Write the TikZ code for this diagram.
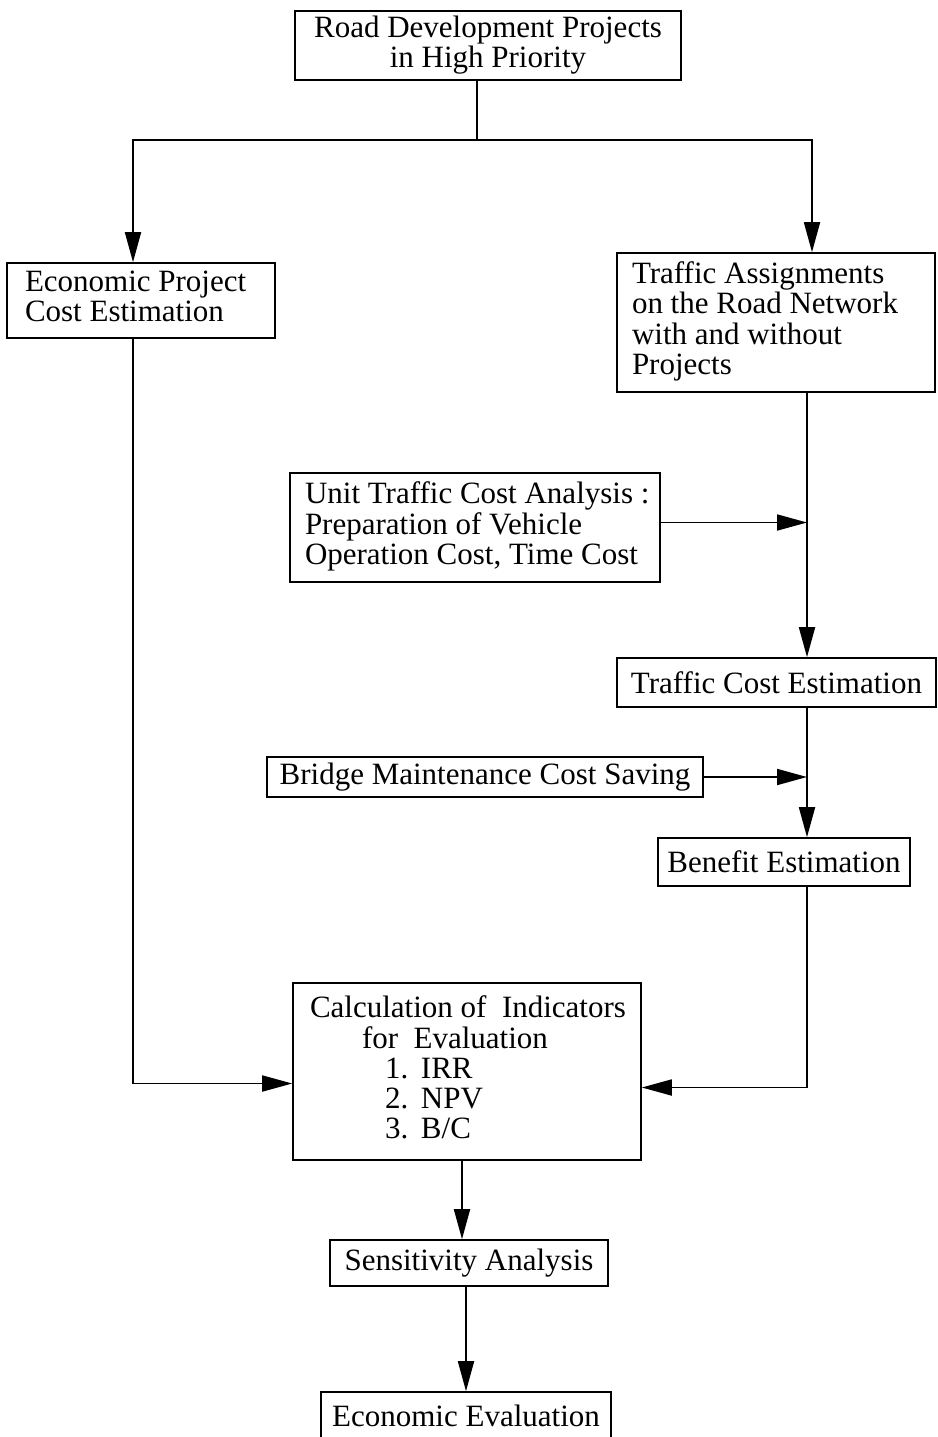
\documentclass[tikz,border=0pt]{standalone}
\usepackage{fontspec}
\setmainfont{Liberation Serif}
\usetikzlibrary{arrows.meta}
% left-aligned multi-line text inside a box of fixed width, with an indent
\newcommand{\leftcol}[3]{\makebox[#1][l]{\hspace*{#2}\begin{tabular}{@{}l@{}}#3\end{tabular}}}
% numbered indicator line
\newcommand{\indic}[2]{\hspace*{92pt}\makebox[36pt][l]{#1}#2}
\begin{document}
\begin{tikzpicture}[x=1pt,y=-1pt,
  blk/.style={draw, line width=1.6pt, inner sep=0pt, align=center,
              font=\fontsize{31}{30}\selectfont},
  conn/.style={line width=1.8pt},
  arr/.style={conn, -{Triangle[length=30pt,width=16pt]}},
]
\fill[white] (0,0) rectangle (937,1437);
\useasboundingbox (0,0) rectangle (937,1437);

% boxes
\node[blk, minimum width=386pt, minimum height=69pt] (top) at (488,45.5)
  {Road Development Projects\\in High Priority};
\node[blk, minimum width=268pt, minimum height=75pt] (econ) at (141,300.5)
  {\leftcol{268pt}{18pt}{Economic Project\\Cost Estimation}};
\node[blk, minimum width=318pt, minimum height=139pt] (traf) at (776,322.5)
  {\leftcol{318pt}{15pt}{Traffic Assignments\\on the Road Network\\with and without\\Projects}};
\node[blk, minimum width=370pt, minimum height=109pt] (unit) at (475,527.5)
  {\leftcol{370pt}{15pt}{Unit Traffic Cost Analysis :\\Preparation of Vehicle\\Operation Cost, Time Cost}};
\node[blk, minimum width=319pt, minimum height=49pt] (tce) at (776.5,682.5)
  {Traffic Cost Estimation};
\node[blk, minimum width=436pt, minimum height=40pt] (bridge) at (485,777)
  {Bridge Maintenance Cost Saving};
\node[blk, minimum width=252pt, minimum height=48pt] (bene) at (784,862)
  {Benefit Estimation};
\node[blk, minimum width=348pt, minimum height=177pt] (calc) at (467,1071.5)
  {\makebox[348pt][l]{\begin{tabular}{@{}l@{}}
    \hspace*{17pt}Calculation of\ \ Indicators\\
    \hspace*{69pt}for\ \ Evaluation\\
    \indic{1.}{IRR}\\
    \indic{2.}{NPV}\\
    \indic{3.}{B/C}
  \end{tabular}}};
\node[blk, minimum width=278pt, minimum height=46pt] (sens) at (469,1263)
  {Sensitivity Analysis};
\node[blk, minimum width=290pt, minimum height=47pt] (eval) at (466,1415.5)
  {Economic Evaluation};

% junctions and column lines
\coordinate (split) at (477,140);
\coordinate (lx) at (133,0);
\coordinate (rx) at (812,0);
\coordinate (mx) at (807,0);
\coordinate (c1) at (462,0);
\coordinate (c2) at (466,0);

% connectors
\draw[conn] (top.south -| split) -- (split);
\draw[arr] (split) -| (econ.north -| lx);
\draw[arr] (split) -| (traf.north -| rx);
\draw[arr] (econ.south -| lx) |- ([yshift=-12pt]calc.west);
\draw[arr] (traf.south -| mx) -- (tce.north -| mx);
\draw[arr] ([yshift=5pt]unit.east) -- ([yshift=5pt]unit.east -| mx);
\draw[arr] (tce.south -| mx) -- (bene.north -| mx);
\draw[arr] (bridge.east) -- (bridge.east -| mx);
\draw[arr] (bene.south -| mx) |- ([yshift=-16pt]calc.east);
\draw[arr] (calc.south -| c1) -- (sens.north -| c1);
\draw[arr] (sens.south -| c2) -- (eval.north -| c2);
\end{tikzpicture}
\end{document}
